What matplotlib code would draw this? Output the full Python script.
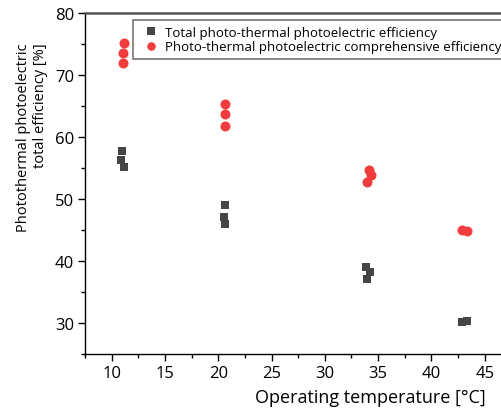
import matplotlib
matplotlib.use("Agg")
import matplotlib.pyplot as plt
from matplotlib.ticker import MultipleLocator

plt.rcParams['font.family'] = ['Open Sans', 'DejaVu Sans']

# Data
total_x = [11.0, 10.9, 11.2, 20.6, 20.5, 20.6, 33.9, 34.2, 34.0, 42.9, 43.3]
total_y = [57.7, 56.3, 55.1, 49.1, 47.1, 46.0, 39.0, 38.2, 37.1, 30.2, 30.4]
comp_x = [11.2, 11.1, 11.1, 20.6, 20.6, 20.6, 34.1, 34.3, 34.0, 42.9, 43.3]
comp_y = [75.2, 73.5, 71.9, 65.4, 63.7, 61.8, 54.6, 53.8, 52.8, 45.0, 44.8]

label_total = "Total photo-thermal photoelectric efficiency"
label_comp = "Photo-thermal photoelectric comprehensive efficiency"
xlabel = "Operating temperature [°C]"
ylabel = "Photothermal photoelectric\ntotal efficiency [%]"
xticks = [10, 15, 20, 25, 30, 35, 40, 45]
yticks = [30, 40, 50, 60, 70, 80]

fig = plt.figure(figsize=(5.02, 4.14), dpi=100)
ax = fig.add_axes([85/502, 59/414, 453/502, 341/414])

ax.plot(total_x, total_y, linestyle='none', marker='s', markersize=6,
        color='#454545', markeredgewidth=0, label=label_total)
ax.plot(comp_x, comp_y, linestyle='none', marker='o', markersize=7.2,
        color='#F03C3C', markeredgewidth=0, label=label_comp)

ax.set_xlim(7.5, 50)
ax.set_ylim(25, 80)
ax.set_xticks(xticks)
ax.set_yticks(yticks)
ax.xaxis.set_minor_locator(MultipleLocator(2.5))
ax.yaxis.set_minor_locator(MultipleLocator(5))
ax.tick_params(which='major', direction='out', length=5, width=1, labelsize=12,
               colors='black', pad=3)
ax.tick_params(which='minor', direction='out', length=3, width=1)
ax.spines['right'].set_visible(False)
ax.spines['top'].set_color('#555555')
ax.spines['top'].set_linewidth(1.8)
ax.spines['left'].set_linewidth(1.0)
ax.spines['bottom'].set_linewidth(1.0)

ax.set_xlabel(xlabel, fontsize=13)
ax.xaxis.label.set_va('center')
ax.xaxis.set_label_coords((370 - 85) / 453, (355 - 398) / 341)

ax.set_ylabel(ylabel, fontsize=10.5, linespacing=1.25)
ax.yaxis.label.set_va('center')
ax.yaxis.label.set_multialignment('right')
ax.yaxis.set_label_coords((32 - 85) / 453, (355 - 137.5) / 341)

leg = ax.legend(loc='upper left', bbox_to_anchor=((133 - 85) / 453, (355 - 21) / 341),
                fontsize=9.5, frameon=True, fancybox=False, borderaxespad=0,
                handletextpad=0.05, handlelength=1.9, borderpad=0.45, labelspacing=0.1,
                markerscale=0.85)
leg.get_frame().set_edgecolor('#555555')
leg.get_frame().set_linewidth(1.2)

fig.savefig('out.png', dpi=100)
